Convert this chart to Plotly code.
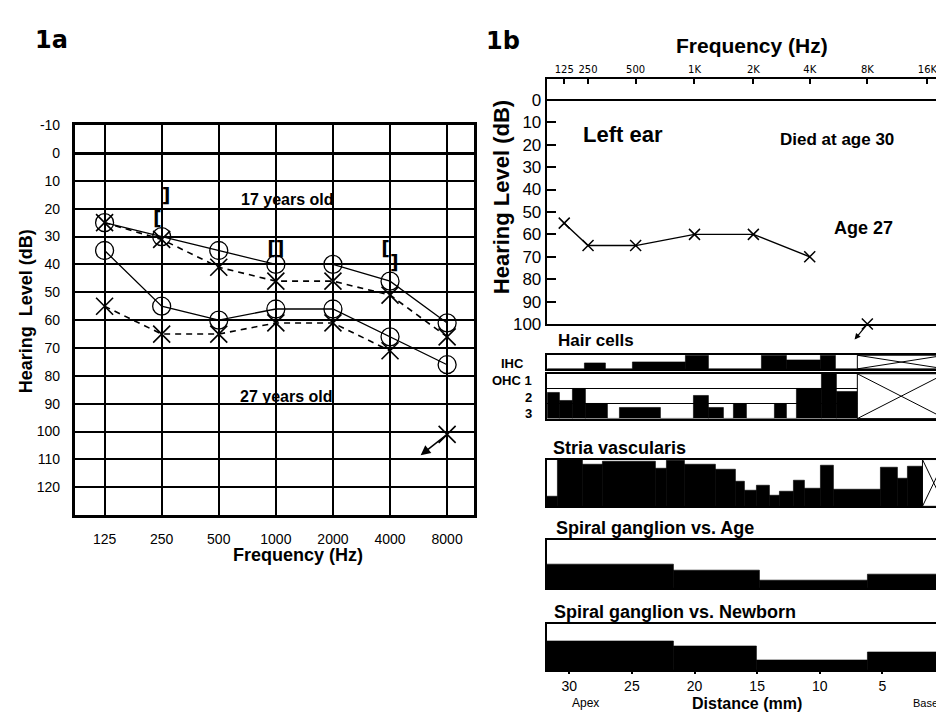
import numpy as np
import plotly.graph_objects as go

W, H = 944, 715
FONT = "Liberation Sans, Arial, sans-serif"


def px(x):
    return x / W


def py(y):
    return 1 - y / H


# ---------------- Panel 1a : audiogram (17 and 27 years old) ----------------
freq_a = [125, 250, 500, 1000, 2000, 4000, 8000]
freq_a_labels = ["125", "250", "500", "1000", "2000", "4000", "8000"]
right17_db = [25, 30, 35, 40, 40, 46, 61]
left17_db = [25, 31, 41, 46, 46, 51, 66]
right27_db = [35, 55, 60, 56, 56, 66, 76]
left27_db = [55, 65, 65, 61, 61, 71, 101]
left27_noresp = [False, False, False, False, False, False, True]
bc_freq = [250, 250, 1000, 1000, 4000, 4000]
bc_db = [24, 16, 35, 35, 35, 40]
bc_sym = ["[", "]", "[", "]", "[", "]"]
ya_ticks = list(range(-10, 130, 10))
ya_labels = ["-10"] + [str(v) for v in range(0, 130, 10)]

# ---------------- Panel 1b : audiogram on cochlear place axis ----------------
b_freq_labels = ["125", "250", "500", "1K", "2K", "4K", "8K", "16K"]
b_freq_mm = [30.4, 28.5, 24.7, 20.0, 15.3, 10.8, 6.2, 1.4]
b_aud_freq = ["125", "250", "500", "1K", "2K", "4K"]
b_aud_db = [55, 65, 65, 60, 60, 70]
b_noresp_freq = "8K"
b_noresp_db = 100
yb_ticks = list(range(0, 110, 10))
dist_ticks = [30, 25, 20, 15, 10, 5, 0]

# Hair cells (fraction lost, IHC 0-1, OHC rows lost 0-3)
ihc_edges = [31.7, 28.8, 27.1, 24.9, 20.7, 18.9, 14.6, 12.6, 9.9, 8.7, 7.0]
ihc_loss = [0, 0.45, 0, 0.5, 1.0, 0, 1.0, 0.6, 1.0, 0]
ihc_missing = [7.0, 0.0]

ohc_edges = [31.7, 30.8, 29.7, 28.65, 26.9, 26.0, 22.7, 20.05, 18.86, 17.67,
             16.88, 15.82, 13.57, 12.64, 11.85, 9.87, 8.67, 7.0]
ohc_loss = [1.7, 1.2, 2.0, 1.0, 0, 0.75, 0, 1.55, 0.75, 0, 1.0, 0, 1.0, 0,
            2.0, 3.0, 1.8]
ohc_missing = [7.0, 0.0]

stria_edges = [31.8, 30.9, 28.9, 27.3, 23.1, 22.2, 20.8, 18.3, 16.7, 16.0, 15.0,
               14.0, 13.2, 12.1, 11.2, 9.9, 8.9, 5.1, 3.8, 3.0, 1.8]
stria_loss = [0.2, 1.0, 0.9, 0.95, 0.8, 0.97, 0.9, 0.78, 0.54, 0.34, 0.45,
              0.24, 0.31, 0.55, 0.38, 0.88, 0.36, 0.83, 0.6, 0.85]
stria_missing = [1.8, 0.0]

sg_age_edges = [31.8, 21.7, 14.8, 6.2, 0.0]
sg_age_loss = [0.5, 0.38, 0.17, 0.28]
sg_newborn_edges = [31.8, 21.7, 15.0, 6.2, 0.0]
sg_newborn_loss = [0.62, 0.52, 0.22, 0.38]

# ---------------------------------------------------------------------------
fig = go.Figure()
BLACK = "black"

# 1a lines
for db in (right17_db, right27_db):
    fig.add_trace(go.Scatter(x=freq_a, y=db, mode="lines", xaxis="x", yaxis="y",
                             line=dict(color=BLACK, width=1.3)))
fig.add_trace(go.Scatter(x=freq_a, y=left17_db, mode="lines", xaxis="x", yaxis="y",
                         line=dict(color=BLACK, width=1.6, dash="6px,5px")))
l27x = [f for f, n in zip(freq_a, left27_noresp) if not n]
l27y = [d for d, n in zip(left27_db, left27_noresp) if not n]
fig.add_trace(go.Scatter(x=l27x, y=l27y, mode="lines", xaxis="x", yaxis="y",
                         line=dict(color=BLACK, width=1.6, dash="6px,5px")))
# circles (right ear)
for db in (right17_db, right27_db):
    fig.add_trace(go.Scatter(x=freq_a, y=db, mode="markers", xaxis="x", yaxis="y",
                             marker=dict(symbol="circle", size=18, color="rgba(255,255,255,0)",
                                         line=dict(color=BLACK, width=1.3))))
# crosses (left ear)
for db in (left17_db, left27_db):
    fig.add_trace(go.Scatter(x=freq_a, y=db, mode="markers", xaxis="x", yaxis="y",
                             cliponaxis=False,
                             marker=dict(symbol="x-thin", size=17, color=BLACK,
                                         line=dict(color=BLACK, width=1.6))))
# bone conduction brackets
fig.add_trace(go.Scatter(x=bc_freq, y=bc_db, mode="text", xaxis="x", yaxis="y",
                         text=[f"<b>{s}</b>" for s in bc_sym],
                         textposition=["middle left" if s == "[" else "middle right" for s in bc_sym],
                         textfont=dict(size=19, family="DejaVu Sans", color=BLACK)))

# 1b audiogram
mm_of = dict(zip(b_freq_labels, b_freq_mm))
fig.add_trace(go.Scatter(x=[mm_of[f] for f in b_aud_freq], y=b_aud_db, mode="lines+markers",
                         xaxis="x2", yaxis="y2",
                         line=dict(color=BLACK, width=1.4),
                         marker=dict(symbol="x-thin", size=11, color=BLACK,
                                     line=dict(color=BLACK, width=1.5))))
fig.add_trace(go.Scatter(x=[mm_of[b_noresp_freq]], y=[b_noresp_db], mode="markers",
                         xaxis="x2", yaxis="y2", cliponaxis=False,
                         marker=dict(symbol="x-thin", size=11, color=BLACK,
                                     line=dict(color=BLACK, width=1.5))))


def add_hist(edges, loss, ax):
    e = np.array(edges, dtype=float)
    centers = (e[:-1] + e[1:]) / 2
    widths = np.abs(e[:-1] - e[1:])
    fig.add_trace(go.Bar(x=centers, y=loss, width=widths, base=0,
                         xaxis=f"x{ax}", yaxis=f"y{ax}",
                         marker=dict(color=BLACK, line=dict(color=BLACK, width=0.6))))


add_hist(ihc_edges, ihc_loss, 3)
add_hist(ohc_edges, ohc_loss, 4)
add_hist(stria_edges, stria_loss, 5)
add_hist(sg_age_edges, sg_age_loss, 6)
add_hist(sg_newborn_edges, sg_newborn_loss, 7)

# ---------------------------------------------------------------------------
layout = dict(
    width=W, height=H, margin=dict(l=0, r=0, t=0, b=0),
    paper_bgcolor="white", plot_bgcolor="white", showlegend=False,
    bargap=0, font=dict(family=FONT, color=BLACK),
)

layout["xaxis"] = dict(
    domain=[px(67), px(468)], anchor="y", type="log",
    range=[np.log10(125) - 0.523 * np.log10(2), np.log10(8000) + 0.471 * np.log10(2)],
    tickvals=freq_a, ticktext=freq_a_labels, showgrid=True, gridcolor=BLACK, gridwidth=1.5,
    showline=True, mirror=True, linecolor=BLACK, linewidth=2.5, zeroline=False,
    ticks="outside", ticklen=9, tickcolor="rgba(0,0,0,0)",
    tickfont=dict(size=14, family=FONT, color=BLACK),
)
layout["yaxis"] = dict(
    domain=[py(512), py(112)], anchor="x", range=[130, -10],
    tickvals=ya_ticks, ticktext=ya_labels, showgrid=True, gridcolor=BLACK, gridwidth=1.5,
    zeroline=True, zerolinecolor=BLACK, zerolinewidth=3,
    showline=True, mirror=True, linecolor=BLACK, linewidth=2.5,
    ticks="outside", ticklen=9, tickcolor="rgba(0,0,0,0)",
    tickfont=dict(size=14, family=FONT, color=BLACK),
)

layout["xaxis2"] = dict(
    domain=[px(541), 1.0], anchor="y2", side="top", range=[31.8, -0.24],
    tickvals=b_freq_mm, ticktext=b_freq_labels, ticks="inside", ticklen=5, tickwidth=1.5,
    tickcolor=BLACK, showline=True, mirror=True, linecolor=BLACK, linewidth=2,
    showgrid=False, zeroline=False,
    tickfont=dict(size=10, family="DejaVu Sans", color=BLACK),
)
layout["yaxis2"] = dict(
    domain=[py(316), py(65)], anchor="x2", range=[100, -9.13],
    tickvals=yb_ticks, ticks="inside", ticklen=9, tickwidth=1.5, tickcolor=BLACK,
    showline=True, mirror="ticks", linecolor=BLACK, linewidth=2,
    zeroline=True, zerolinecolor=BLACK, zerolinewidth=2, showgrid=False,
    tickfont=dict(size=17, family=FONT, color=BLACK),
)

panel_y = {3: (348, 362, 1), 4: (367, 413, 3), 5: (455, 503, 1), 6: (538, 587, 1), 7: (624, 671, 1)}
for i, (top, bot, ymax) in panel_y.items():
    xa = dict(domain=[px(541), px(941)], anchor=f"y{i}", range=[31.8, 0],
              showline=True, mirror=True, linecolor=BLACK, linewidth=1.6,
              showgrid=False, zeroline=False, showticklabels=False, ticks="")
    if i == 7:
        xa.update(showticklabels=True, ticks="outside", ticklen=2, tickwidth=1.5,
                  tickcolor=BLACK, tickvals=dist_ticks,
                  tickfont=dict(size=14, family=FONT, color=BLACK))
    ya = dict(domain=[py(bot), py(top)], anchor=f"x{i}", range=[0, ymax],
              showline=True, mirror=True, linecolor=BLACK, linewidth=1.6,
              showgrid=False, zeroline=False, showticklabels=False, ticks="")
    if i == 4:
        ya.update(showgrid=True, gridcolor=BLACK, gridwidth=1, tickvals=[1, 2])
    layout[f"xaxis{i}"] = xa
    layout[f"yaxis{i}"] = ya

shapes = []
for i, (m0, m1) in [(3, ihc_missing), (4, ohc_missing), (5, stria_missing)]:
    xr, yr = f"x{i}", f"y{i} domain"
    ln = dict(color=BLACK, width=1)
    shapes.append(dict(type="rect", xref=xr, yref=yr, x0=m0, x1=m1, y0=0, y1=1,
                       line=ln, fillcolor="white", layer="above"))
    shapes.append(dict(type="line", xref=xr, yref=yr, x0=m0, x1=m1, y0=1, y1=0, line=ln))
    shapes.append(dict(type="line", xref=xr, yref=yr, x0=m0, x1=m1, y0=0, y1=1, line=ln))
layout["shapes"] = shapes


def ann(text, x, y, size, bold=True, angle=0, family=FONT, xanchor="center"):
    return dict(text=f"<b>{text}</b>" if bold else text, x=px(x), y=py(y),
                xref="paper", yref="paper", showarrow=False, textangle=angle,
                xanchor=xanchor, yanchor="middle",
                font=dict(size=size, family=family, color=BLACK))


anns = [
    ann("1a", 44, 25, 24, family="DejaVu Sans"),
    ann("1b", 497, 26, 24, family="DejaVu Sans"),
    ann("Hearing  Level (dB)", 18, 303, 18, angle=-90),
    ann("Frequency (Hz)", 291, 553, 18),
    ann("17 years old", 281, 188, 16),
    ann("27 years old", 280, 390, 16),
    ann("Frequency (Hz)", 747, 30, 21),
    ann("Hearing Level (dB)", 495, 186, 22, angle=-90),
    ann("Left ear", 575, 122, 22, xanchor="left"),
    ann("Died at age 30", 773, 127, 17, xanchor="left"),
    ann("Age 27", 828, 217, 18, xanchor="left"),
    ann("Hair cells", 550, 333, 17, xanchor="left"),
    ann("IHC", 520, 356, 13, xanchor="right"),
    ann("OHC 1", 528, 374, 13, xanchor="right"),
    ann("2", 528, 391, 13, xanchor="right"),
    ann("3", 528, 408, 13, xanchor="right"),
    ann("Stria vascularis", 545, 443, 18, xanchor="left"),
    ann("Spiral ganglion vs. Age", 548, 525, 18, xanchor="left"),
    ann("Spiral ganglion vs. Newborn", 546, 611, 18, xanchor="left"),
    ann("Apex", 580, 705, 12, bold=False),
    ann("Distance (mm)", 742, 705, 16),
    ann("Base", 936, 705, 11, bold=False, xanchor="right"),
]
# no-response arrows
anns.append(dict(x=np.log10(freq_a[-1]), y=left27_db[-1], xref="x", yref="y",
                 ax=-28, ay=22, axref="pixel", ayref="pixel", showarrow=True,
                 arrowside="start", startarrowhead=2, startarrowsize=1.3,
                 arrowwidth=1.5, arrowcolor=BLACK, standoff=0, startstandoff=0, text=""))
anns.append(dict(x=mm_of[b_noresp_freq], y=b_noresp_db, xref="x2", yref="y2",
                 ax=-14, ay=17, showarrow=True, arrowside="start", startarrowhead=2,
                 startarrowsize=1.0, arrowwidth=1.2, arrowcolor=BLACK,
                 standoff=0, startstandoff=0, text=""))
layout["annotations"] = anns

fig.update_layout(**layout)
fig.write_html("out.html")
